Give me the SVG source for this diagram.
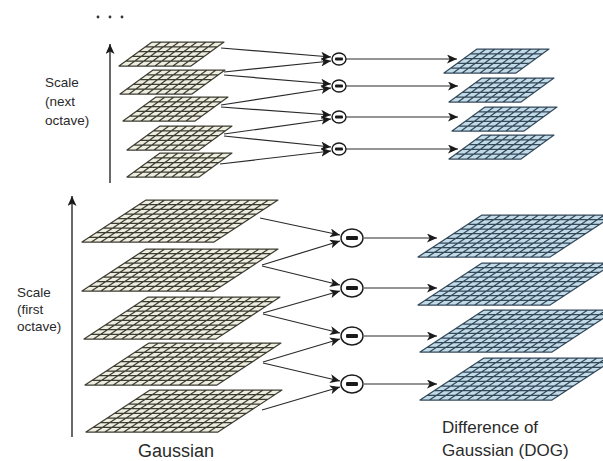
<svg xmlns="http://www.w3.org/2000/svg" xmlns:xlink="http://www.w3.org/1999/xlink" width="603" height="461" viewBox="0 0 603 461">
<style>
.gau{fill:#eeede0;stroke:#3d3d32;stroke-width:1.25;stroke-linejoin:round}
.dog{fill:#c2dbe9;stroke:#34495a;stroke-width:1.25;stroke-linejoin:round}
.conn{fill:none;stroke:#2a2a2a;stroke-width:1.2}
.axis{fill:none;stroke:#1a1a1a;stroke-width:1.3}
.op{fill:#ffffff;stroke:#1a1a1a;stroke-width:1.4}
.bar{fill:#1a1a1a}
.lbl{font-family:"Liberation Sans",Arial,sans-serif;fill:#2a2a2a}
</style>
<defs>
<marker id="ah" markerUnits="userSpaceOnUse" markerWidth="11" markerHeight="9" refX="10" refY="4.5" orient="auto">
<path d="M0,0 L10,4.5 L0,9 L2.6,4.5 Z" fill="#1a1a1a"/>
</marker>
<path id="bigSlab" d="M64,0 H196 L132,42 H0 Z M56.89,4.67 h132 M49.78,9.33 h132 M42.67,14 h132 M35.56,18.67 h132 M28.44,23.33 h132 M21.33,28 h132 M14.22,32.67 h132 M7.11,37.33 h132 M73.43,0 l-64,42 M82.86,0 l-64,42 M92.29,0 l-64,42 M101.71,0 l-64,42 M111.14,0 l-64,42 M120.57,0 l-64,42 M130,0 l-64,42 M139.43,0 l-64,42 M148.86,0 l-64,42 M158.29,0 l-64,42 M167.71,0 l-64,42 M177.14,0 l-64,42 M186.57,0 l-64,42"/>
<path id="smallSlab" d="M33,0 H105 L72,24 H0 Z M26.4,4.8 h72 M19.8,9.6 h72 M13.2,14.4 h72 M6.6,19.2 h72 M42,0 l-33,24 M51,0 l-33,24 M60,0 l-33,24 M69,0 l-33,24 M78,0 l-33,24 M87,0 l-33,24 M96,0 l-33,24"/>
</defs>

<g id="dots">
<circle cx="98" cy="17" r="1.4" fill="#333"/>
<circle cx="110" cy="17" r="1.4" fill="#333"/>
<circle cx="122" cy="17" r="1.4" fill="#333"/>
</g>

<g id="scale-next">
<line class="axis" x1="110" y1="183" x2="110" y2="44" marker-end="url(#ah)"/>
<text class="lbl" font-size="13.5" x="45" y="87">Scale</text>
<text class="lbl" font-size="13.5" x="45" y="106">(next</text>
<text class="lbl" font-size="13.5" x="45" y="125">octave)</text>
</g>

<g id="scale-first">
<line class="axis" x1="72" y1="437" x2="72" y2="196" marker-end="url(#ah)"/>
<text class="lbl" font-size="13.5" x="17" y="297">Scale</text>
<text class="lbl" font-size="13.5" x="17" y="314">(first</text>
<text class="lbl" font-size="13.5" x="17" y="331">octave)</text>
</g>

<g id="connectors">
<line class="conn" x1="221" y1="48" x2="331" y2="57" marker-end="url(#ah)"/>
<line class="conn" x1="224" y1="72" x2="331" y2="61" marker-end="url(#ah)"/>
<line class="conn" x1="224" y1="75" x2="331" y2="84" marker-end="url(#ah)"/>
<line class="conn" x1="221" y1="105" x2="331" y2="88" marker-end="url(#ah)"/>
<line class="conn" x1="221" y1="107" x2="331" y2="115" marker-end="url(#ah)"/>
<line class="conn" x1="224" y1="134" x2="331" y2="119" marker-end="url(#ah)"/>
<line class="conn" x1="224" y1="136" x2="331" y2="147" marker-end="url(#ah)"/>
<line class="conn" x1="220" y1="164" x2="331" y2="151" marker-end="url(#ah)"/>
<line class="conn" x1="346" y1="59" x2="457" y2="59" marker-end="url(#ah)"/>
<line class="conn" x1="346" y1="86" x2="458" y2="86" marker-end="url(#ah)"/>
<line class="conn" x1="346" y1="117" x2="458" y2="117" marker-end="url(#ah)"/>
<line class="conn" x1="346" y1="149" x2="458" y2="149" marker-end="url(#ah)"/>
<line class="conn" x1="260" y1="218" x2="340" y2="235" marker-end="url(#ah)"/>
<line class="conn" x1="262" y1="265" x2="340" y2="241" marker-end="url(#ah)"/>
<line class="conn" x1="262" y1="266" x2="340" y2="285" marker-end="url(#ah)"/>
<line class="conn" x1="263" y1="313" x2="340" y2="291" marker-end="url(#ah)"/>
<line class="conn" x1="263" y1="314" x2="340" y2="333" marker-end="url(#ah)"/>
<line class="conn" x1="263" y1="362" x2="340" y2="339" marker-end="url(#ah)"/>
<line class="conn" x1="263" y1="363" x2="340" y2="381" marker-end="url(#ah)"/>
<line class="conn" x1="262" y1="410" x2="340" y2="387" marker-end="url(#ah)"/>
<line class="conn" x1="364" y1="238" x2="437" y2="238" marker-end="url(#ah)"/>
<line class="conn" x1="364" y1="288" x2="437" y2="288" marker-end="url(#ah)"/>
<line class="conn" x1="364" y1="336" x2="437" y2="336" marker-end="url(#ah)"/>
<line class="conn" x1="364" y1="384" x2="437" y2="384" marker-end="url(#ah)"/>
</g>

<g id="gauss-next-1"><use href="#smallSlab" class="gau" x="119" y="42"/></g>
<g id="gauss-next-2"><use href="#smallSlab" class="gau" x="120" y="70"/></g>
<g id="gauss-next-3"><use href="#smallSlab" class="gau" x="123" y="97"/></g>
<g id="gauss-next-4"><use href="#smallSlab" class="gau" x="127" y="126"/></g>
<g id="gauss-next-5"><use href="#smallSlab" class="gau" x="127" y="153"/></g>

<g id="dog-next-1"><use href="#smallSlab" class="dog" x="444" y="49"/></g>
<g id="dog-next-2"><use href="#smallSlab" class="dog" x="449" y="78"/></g>
<g id="dog-next-3"><use href="#smallSlab" class="dog" x="452" y="107"/></g>
<g id="dog-next-4"><use href="#smallSlab" class="dog" x="449" y="135"/></g>

<g id="gauss-first-1"><use href="#bigSlab" class="gau" x="82" y="200"/></g>
<g id="gauss-first-2"><use href="#bigSlab" class="gau" x="82" y="249"/></g>
<g id="gauss-first-3"><use href="#bigSlab" class="gau" x="84" y="297"/></g>
<g id="gauss-first-4"><use href="#bigSlab" class="gau" x="85" y="343"/></g>
<g id="gauss-first-5"><use href="#bigSlab" class="gau" x="86" y="390"/></g>

<g id="dog-first-1"><use href="#bigSlab" class="dog" x="418" y="215"/></g>
<g id="dog-first-2"><use href="#bigSlab" class="dog" x="418" y="263"/></g>
<g id="dog-first-3"><use href="#bigSlab" class="dog" x="420" y="310"/></g>
<g id="dog-first-4"><use href="#bigSlab" class="dog" x="420" y="358"/></g>

<g id="minus-next-1"><ellipse class="op" cx="339" cy="59" rx="7" ry="6"/><rect class="bar" x="335" y="57.5" width="8" height="3" rx="1"/></g>
<g id="minus-next-2"><ellipse class="op" cx="339" cy="86" rx="7" ry="6"/><rect class="bar" x="335" y="84.5" width="8" height="3" rx="1"/></g>
<g id="minus-next-3"><ellipse class="op" cx="339" cy="117" rx="7" ry="6"/><rect class="bar" x="335" y="115.5" width="8" height="3" rx="1"/></g>
<g id="minus-next-4"><ellipse class="op" cx="339" cy="149" rx="7" ry="6"/><rect class="bar" x="335" y="147.5" width="8" height="3" rx="1"/></g>

<g id="minus-first-1"><ellipse class="op" cx="352" cy="238" rx="11" ry="9"/><rect class="bar" x="346" y="236" width="12" height="4" rx="1.2"/></g>
<g id="minus-first-2"><ellipse class="op" cx="352" cy="288" rx="11" ry="9"/><rect class="bar" x="346" y="286" width="12" height="4" rx="1.2"/></g>
<g id="minus-first-3"><ellipse class="op" cx="352" cy="336" rx="11" ry="9"/><rect class="bar" x="346" y="334" width="12" height="4" rx="1.2"/></g>
<g id="minus-first-4"><ellipse class="op" cx="352" cy="384" rx="11" ry="9"/><rect class="bar" x="346" y="382" width="12" height="4" rx="1.2"/></g>

<g id="label-gaussian">
<text class="lbl" font-size="18" x="138" y="457">Gaussian</text>
</g>
<g id="label-dog">
<text class="lbl" font-size="17" x="442" y="433">Difference of</text>
<text class="lbl" font-size="17" x="442" y="456">Gaussian (DOG)</text>
</g>
</svg>
